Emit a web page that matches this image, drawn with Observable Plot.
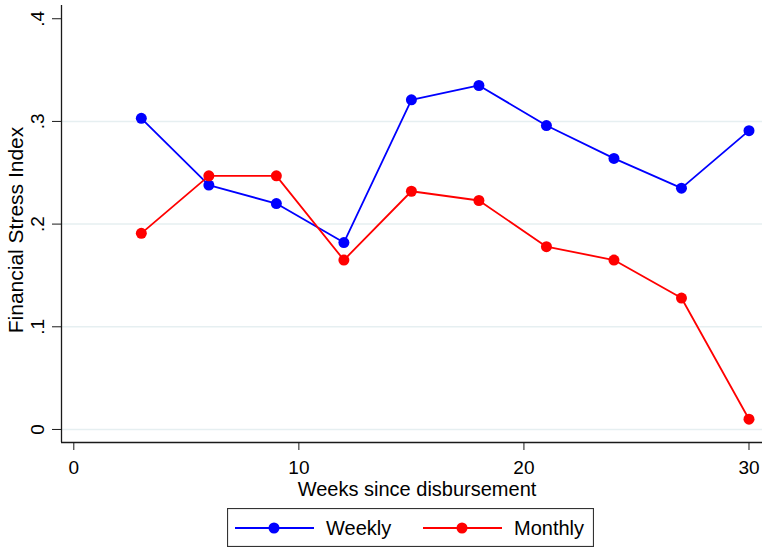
<!DOCTYPE html>
<html>
<head>
<meta charset="utf-8">
<script src="https://cdn.jsdelivr.net/npm/d3@7"></script>
<script src="https://cdn.jsdelivr.net/npm/@observablehq/plot@0.6"></script>
<style>
  html, body { margin: 0; padding: 0; background: #fff; }
  body { width: 768px; height: 553px; position: relative; overflow: hidden; font-family: "Liberation Sans", Arial, sans-serif; }
  #chart { position: absolute; left: 0; top: 0; }
  #legend { position: absolute; left: 227px; top: 508px; }
</style>
</head>
<body>
<div id="chart"></div>
<div id="legend"></div>
<script>
// ---- data ----
const weeks = [3, 6, 9, 12, 15, 18, 21, 24, 27, 30];
const weekly = [0.303, 0.238, 0.220, 0.182, 0.321, 0.335, 0.296, 0.264, 0.235, 0.291];
const monthly = [0.191, 0.247, 0.247, 0.165, 0.232, 0.223, 0.178, 0.165, 0.128, 0.010];
const seriesNames = ["Weekly", "Monthly"];
const seriesColors = ["#0000ff", "#ff0000"];
const xTicks = [0, 10, 20, 30];
const yTicks = [0, 0.1, 0.2, 0.3, 0.4];
const gridTicks = [0, 0.1, 0.2, 0.3];
const xTitle = "Weeks since disbursement";
const yTitle = "Financial Stress Index";

const rows = [];
weeks.forEach((w, i) => rows.push({week: w, value: weekly[i], series: seriesNames[0]}));
weeks.forEach((w, i) => rows.push({week: w, value: monthly[i], series: seriesNames[1]}));

const xDomain = [-0.547, 30.6];
const yDomain = [-0.0127, 0.4129];
const fmtY = d => d === 0 ? "0" : d3.format(".1f")(d).replace(/^0/, "");
const axisColor = "#1a1a1a";

const chart = Plot.plot({
  width: 768,
  height: 500,
  marginLeft: 61,
  marginRight: 6,
  marginTop: 5,
  marginBottom: 58,
  style: {fontFamily: '"Liberation Sans", Arial, sans-serif', color: "#000", background: "#fff"},
  x: {domain: xDomain},
  y: {domain: yDomain},
  color: {domain: seriesNames, range: seriesColors},
  marks: [
    Plot.gridY(gridTicks, {stroke: "#e6eff1", strokeOpacity: 1, strokeWidth: 1.5}),
    Plot.ruleX([xDomain[0]], {stroke: axisColor, strokeWidth: 1.3}),
    Plot.ruleY([yDomain[0]], {stroke: axisColor, strokeWidth: 1.3}),
    Plot.axisY({ticks: yTicks, tickSize: 9, tickFormat: () => "", label: null, stroke: axisColor}),
    Plot.text(yTicks, {y: d => d, frameAnchor: "left", textAnchor: "middle", dx: -24, rotate: -90, text: fmtY, fontSize: 19, fill: "#000"}),
    Plot.axisX({ticks: xTicks, tickSize: 8, tickPadding: 10, fontSize: 19, label: null, tickFormat: d => String(d), stroke: axisColor}),
    Plot.text([xTitle], {frameAnchor: "bottom", textAnchor: "middle", lineAnchor: "bottom", dy: 53, dx: 5, fontSize: 20, fill: "#000"}),
    Plot.text([yTitle], {frameAnchor: "left", textAnchor: "middle", dx: -45, dy: 6, rotate: -90, fontSize: 21, fill: "#000"}),
    Plot.line(rows, {x: "week", y: "value", z: "series", stroke: "series", strokeWidth: 1.8}),
    Plot.dot(rows, {x: "week", y: "value", fill: "series", r: 5.5, stroke: "none"})
  ]
});
document.getElementById("chart").appendChild(chart);

// ---- legend (below the SVG) ----
const lw = 367, lh = 39;
const leg = d3.select("#legend").append("svg")
  .attr("width", lw).attr("height", lh)
  .style("font-family", '"Liberation Sans", Arial, sans-serif');
leg.append("rect").attr("x", 0.5).attr("y", 0.5).attr("width", lw - 1).attr("height", lh - 1)
  .attr("fill", "#fff").attr("stroke", "#333").attr("stroke-width", 1.2);
const keyX = [8, 196];
seriesNames.forEach((name, i) => {
  const g = leg.append("g").attr("transform", `translate(${keyX[i]},0)`);
  g.append("line").attr("x1", 0).attr("x2", 79).attr("y1", 20).attr("y2", 20)
    .attr("stroke", seriesColors[i]).attr("stroke-width", 1.8);
  g.append("circle").attr("cx", 39).attr("cy", 20).attr("r", 5.5).attr("fill", seriesColors[i]);
  g.append("text").attr("x", 91).attr("y", 27).attr("font-size", 20).attr("fill", "#000").text(name);
});
</script>
</body>
</html>
